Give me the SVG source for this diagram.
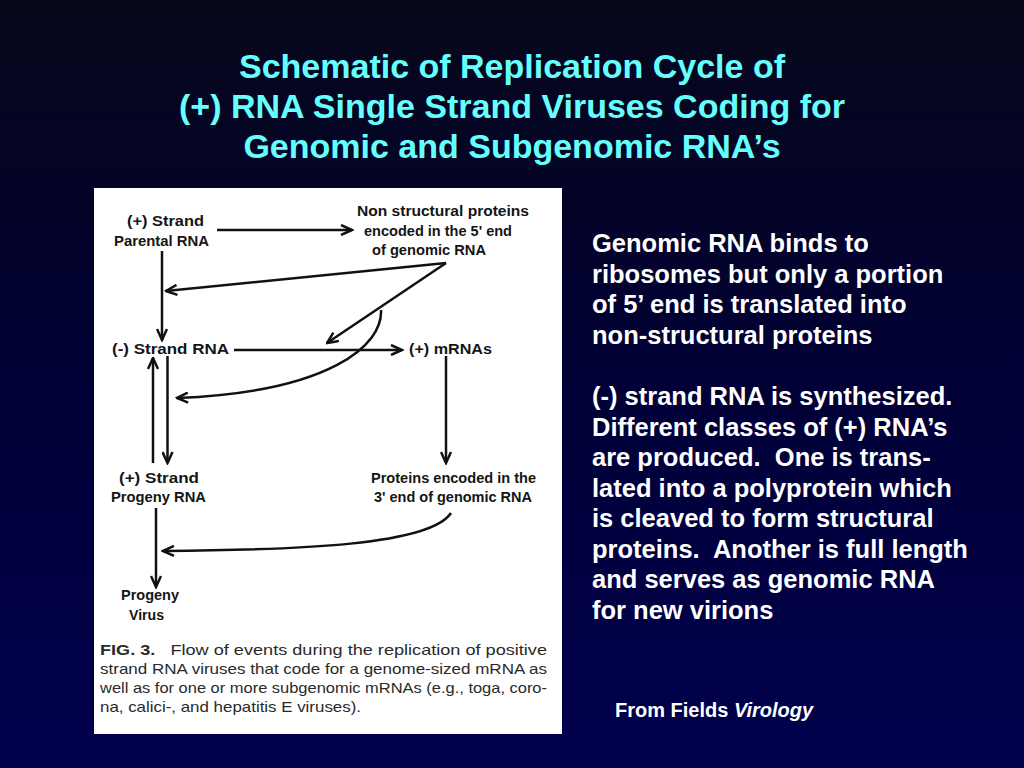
<svg xmlns="http://www.w3.org/2000/svg" width="1024" height="768" viewBox="0 0 1024 768">
<defs>
<linearGradient id="bg" x1="0" y1="0" x2="0" y2="1">
<stop offset="0" stop-color="#07071a"/>
<stop offset="0.5" stop-color="#000036"/>
<stop offset="1" stop-color="#00004e"/>
</linearGradient>
<marker id="arr" viewBox="0 0 14 12" refX="12.5" refY="6" markerWidth="14" markerHeight="12" markerUnits="userSpaceOnUse" orient="auto">
<path d="M1.5,1 L12.5,6 L1.5,11" fill="none" stroke="#111" stroke-width="2.5" stroke-linejoin="miter"/>
</marker>
<style>
.title{font-family:"Liberation Sans",Arial,sans-serif;font-weight:bold;font-size:34px;fill:#66ffff;text-anchor:middle}
.body{font-family:"Liberation Sans",Arial,sans-serif;font-weight:bold;font-size:25.5px;fill:#ffffff;white-space:pre}
.lbl{font-family:"Liberation Sans",Arial,sans-serif;font-weight:bold;font-size:14.5px;fill:#151515}
.cap{font-family:"Liberation Sans",Arial,sans-serif;font-size:14.5px;fill:#2a2a2a;white-space:pre}
.ln{fill:none;stroke:#111;stroke-width:2.5}
</style>
</defs>
<rect x="0" y="0" width="1024" height="768" fill="url(#bg)"/>
<g id="title">
<text class="title" x="512" y="78">Schematic of Replication Cycle of</text>
<text class="title" x="512" y="118">(+) RNA Single Strand Viruses Coding for</text>
<text class="title" x="512" y="158">Genomic and Subgenomic RNA’s</text>
</g>
<rect id="panel" x="94" y="188" width="468" height="546" fill="#ffffff"/>
<g id="connectors">
<line class="ln" x1="217" y1="230" x2="352" y2="230" marker-end="url(#arr)"/>
<line class="ln" x1="162" y1="251" x2="162" y2="340" marker-end="url(#arr)"/>
<line class="ln" x1="446" y1="263" x2="166" y2="291" marker-end="url(#arr)"/>
<line class="ln" x1="446" y1="263" x2="327" y2="343" marker-end="url(#arr)"/>
<line class="ln" x1="234" y1="350" x2="402" y2="350" marker-end="url(#arr)"/>
<path class="ln" d="M381,310 C383,345 330,392 177,398" marker-end="url(#arr)"/>
<line class="ln" x1="153" y1="463" x2="153" y2="358" marker-end="url(#arr)"/>
<line class="ln" x1="167.5" y1="356" x2="167.5" y2="463" marker-end="url(#arr)"/>
<line class="ln" x1="446" y1="356" x2="446" y2="463" marker-end="url(#arr)"/>
<line class="ln" x1="156" y1="508" x2="156" y2="587" marker-end="url(#arr)"/>
<path class="ln" d="M451,513 C430,545 300,550 163,551" marker-end="url(#arr)"/>
</g>
<g id="node-parental">
<text class="lbl" x="127" y="226" textLength="77" lengthAdjust="spacingAndGlyphs">(+) Strand</text>
<text class="lbl" x="114" y="246" textLength="95" lengthAdjust="spacingAndGlyphs">Parental RNA</text>
</g>
<g id="node-nonstructural">
<text class="lbl" x="357" y="216" textLength="172" lengthAdjust="spacingAndGlyphs">Non structural proteins</text>
<text class="lbl" x="364" y="236" textLength="148" lengthAdjust="spacingAndGlyphs">encoded in the 5' end</text>
<text class="lbl" x="372" y="255" textLength="114" lengthAdjust="spacingAndGlyphs">of genomic RNA</text>
</g>
<g id="node-minus">
<text class="lbl" x="112" y="354" textLength="117" lengthAdjust="spacingAndGlyphs">(-) Strand RNA</text>
</g>
<g id="node-mrnas">
<text class="lbl" x="409" y="354" textLength="83" lengthAdjust="spacingAndGlyphs">(+) mRNAs</text>
</g>
<g id="node-progeny-rna">
<text class="lbl" x="119" y="483" textLength="80" lengthAdjust="spacingAndGlyphs">(+) Strand</text>
<text class="lbl" x="111" y="502" textLength="95" lengthAdjust="spacingAndGlyphs">Progeny RNA</text>
</g>
<g id="node-proteins3">
<text class="lbl" x="371" y="483" textLength="165" lengthAdjust="spacingAndGlyphs">Proteins encoded in the</text>
<text class="lbl" x="374" y="502" textLength="158" lengthAdjust="spacingAndGlyphs">3' end of genomic RNA</text>
</g>
<g id="node-virus">
<text class="lbl" x="121" y="600" textLength="58" lengthAdjust="spacingAndGlyphs">Progeny</text>
<text class="lbl" x="129" y="620" textLength="35" lengthAdjust="spacingAndGlyphs">Virus</text>
</g>
<g id="caption">
<text class="cap" x="100" y="655" textLength="447" lengthAdjust="spacingAndGlyphs"><tspan font-weight="bold">FIG. 3.</tspan>   Flow of events during the replication of positive</text>
<text class="cap" x="100" y="674" textLength="447" lengthAdjust="spacingAndGlyphs">strand RNA viruses that code for a genome-sized mRNA as</text>
<text class="cap" x="100" y="693" textLength="447" lengthAdjust="spacingAndGlyphs">well as for one or more subgenomic mRNAs (e.g., toga, coro-</text>
<text class="cap" x="100" y="712" textLength="261" lengthAdjust="spacingAndGlyphs">na, calici-, and hepatitis E viruses).</text>
</g>
<g id="notes">
<text class="body" x="592" y="252">Genomic RNA binds to</text>
<text class="body" x="592" y="283">ribosomes but only a portion</text>
<text class="body" x="592" y="313">of 5’ end is translated into</text>
<text class="body" x="592" y="344">non-structural proteins</text>
<text class="body" x="592" y="405">(-) strand RNA is synthesized.</text>
<text class="body" x="592" y="436">Different classes of (+) RNA’s</text>
<text class="body" x="592" y="466">are produced.  One is trans-</text>
<text class="body" x="592" y="497">lated into a polyprotein which</text>
<text class="body" x="592" y="527">is cleaved to form structural</text>
<text class="body" x="592" y="558">proteins.  Another is full length</text>
<text class="body" x="592" y="588">and serves as genomic RNA</text>
<text class="body" x="592" y="619">for new virions</text>
</g>
<g id="source">
<text font-family="Liberation Sans, Arial, sans-serif" font-weight="bold" font-size="20" fill="#ffffff" x="615" y="717">From Fields <tspan font-style="italic">Virology</tspan></text>
</g>
</svg>
